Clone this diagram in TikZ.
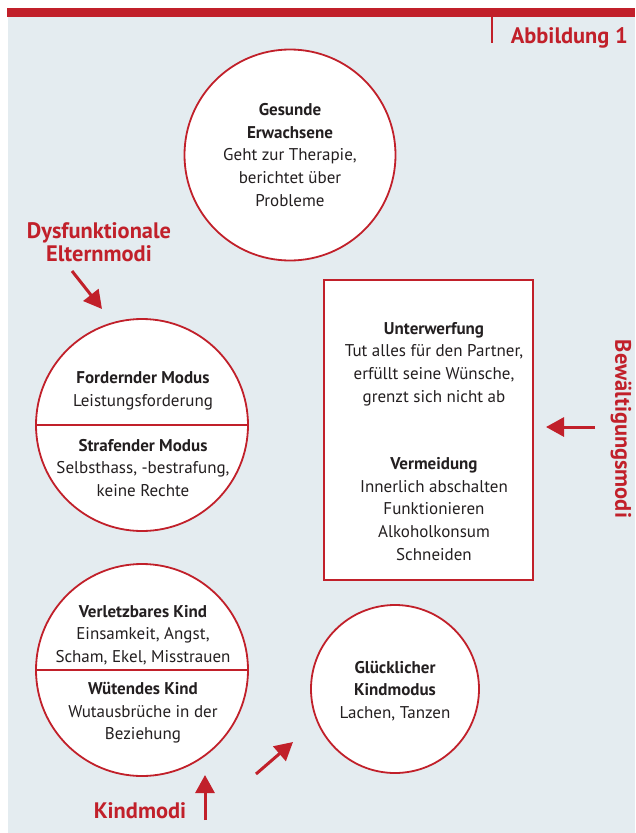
\documentclass[tikz,border=0pt]{standalone}
\usepackage{fontspec}
\setmainfont{PT Sans}
\usetikzlibrary{arrows.meta}
\definecolor{myred}{HTML}{C1202A}
\definecolor{mybg}{HTML}{E4ECF0}
\definecolor{txt}{HTML}{231F20}
\begin{document}
\begin{tikzpicture}[x=1pt,y=-1pt,
  circ/.style={circle, draw=myred, line width=1.8pt, fill=white, inner sep=0pt},
  body/.style={font=\fontsize{17}{22.6}\selectfont, text=txt, align=center, inner sep=0pt},
  lbl/.style={font=\fontsize{22.4}{23.5}\selectfont\bfseries, text=myred, align=center, inner sep=0pt},
  arr/.style={draw=myred, line width=3pt, -{Triangle[length=18pt,width=19pt]}},
  boxstyle/.style={draw=myred, line width=1.8pt, fill=white, inner sep=0pt}
]
\useasboundingbox (0,0) rectangle (635,833);
\fill[white] (0,0) rectangle (635,833);
\fill[mybg] (8,17) rectangle (635,833);
\fill[myred] (7,8) rectangle (635,17);
\draw[myred, line width=1.5pt] (492,17) -- (492,43);
\node[lbl, anchor=base east] (abb) at (628,43) {Abbildung 1};

% Gesunde Erwachsene
\node[circ, minimum size=211pt] (ge) at (290,155) {};
\node[body] (getxt) at (290,155) {\textbf{Gesunde}\\\textbf{Erwachsene}\\Geht zur Therapie,\\berichtet über\\Probleme};

% Eltern circle
\node[circ, minimum size=212pt] (el) at (142,425) {};
\draw[myred, line width=1.8pt] (el.west) -- (el.east);
\node[body] (eltop) at (143,391) {\textbf{Fordernder Modus}\\Leistungsforderung};
\node[body] (elbot) at (143,468) {\textbf{Strafender Modus}\\Selbsthass, -bestrafung,\\keine Rechte};

% Kind circle
\node[circ, minimum size=212pt] (ki) at (142,670) {};
\draw[myred, line width=1.8pt] (ki.west) -- (ki.east);
\node[body] (kitop) at (143,635) {\textbf{Verletzbares Kind}\\Einsamkeit, Angst,\\Scham, Ekel, Misstrauen};
\node[body] (kibot) at (143,713) {\textbf{Wütendes Kind}\\Wutausbrüche in der\\Beziehung};

% Gluecklicher
\node[circ, minimum size=168pt] (gl) at (395,689) {};
\node[body] (gltxt) at (395,691) {\textbf{Glücklicher}\\\textbf{Kindmodus}\\Lachen, Tanzen};

% Box
\node[boxstyle, minimum width=209pt, minimum height=300pt] (bx) at (428.5,430) {};
\node[body] (bxtop) at (434,364) {\textbf{Unterwerfung}\\Tut alles für den Partner,\\erfüllt seine Wünsche,\\grenzt sich nicht ab};
\node[body] (bxbot) at (434,509) {\textbf{Vermeidung}\\Innerlich abschalten\\Funktionieren\\Alkoholkonsum\\Schneiden};

% Labels
\node[lbl] (dys) at (99,242) {Dysfunktionale\\Elternmodi};
\node[lbl, anchor=base] (kmod) at (140,818) {Kindmodi};
\node[lbl, rotate=-90] (bew) at (621,429) {Bewältigungsmodi};

% Arrows
\coordinate (a1s) at (72,271); \coordinate (a1e) at (102,309);
\draw[arr] (a1s) -- (a1e);
\coordinate (a2s) at (595,427); \coordinate (a2e) at (546,427);
\draw[arr] (a2s) -- (a2e);
\coordinate (a3s) at (205,820); \coordinate (a3e) at (205,775);
\draw[arr] (a3s) -- (a3e);
\coordinate (a4s) at (256,774); \coordinate (a4e) at (293,742);
\draw[arr] (a4s) -- (a4e);
\end{tikzpicture}
\end{document}
